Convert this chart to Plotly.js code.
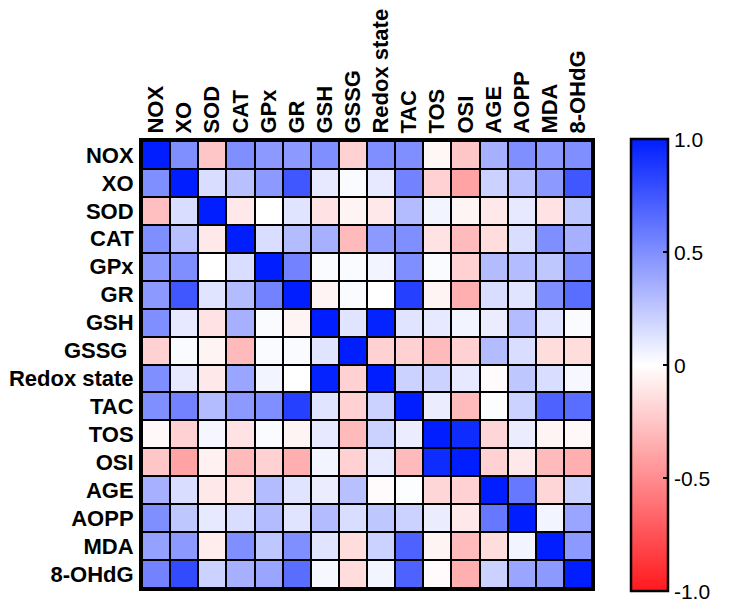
<!DOCTYPE html>
<html>
<head>
<meta charset="utf-8">
<script src="https://cdn.plot.ly/plotly-3.0.1.min.js"></script>
<style>
	body { margin: 0; background: #fff; }
	#chart { width: 735px; height: 608px; }
</style>
</head>
<body>
<div id="chart"></div>
<script>
// variable names, same order for rows and columns ("GSSG" has a trailing space in the source)
let labels = ["NOX", "XO", "SOD", "CAT", "GPx", "GR", "GSH", "GSSG\u00a0", "Redox state",
	"TAC", "TOS", "OSI", "AGE", "AOPP", "MDA", "8-OHdG"];

// correlation coefficients
let rNOX   = [1, 0.5, -0.25, 0.5, 0.45, 0.45, 0.5, -0.2, 0.5, 0.5, -0.04, -0.25, 0.35, 0.5, 0.45, 0.5];
let rXO    = [0.5, 1, 0.15, 0.28, 0.45, 0.75, 0.1, 0.02, 0.1, 0.55, -0.2, -0.4, 0.2, 0.28, 0.45, 0.75];
let rSOD   = [-0.28, 0.15, 1, -0.1, 0, 0.12, -0.12, -0.05, -0.1, 0.3, 0.05, -0.05, -0.1, 0.1, -0.12, 0.25];
let rCAT   = [0.5, 0.28, -0.1, 1, 0.15, 0.3, 0.35, -0.3, 0.45, 0.5, -0.12, -0.3, -0.15, 0.15, 0.5, 0.35];
let rGPx   = [0.45, 0.5, 0, 0.15, 1, 0.55, 0.02, 0.02, 0.05, 0.5, 0.02, -0.2, 0.3, 0.3, 0.25, 0.5];
let rGR    = [0.45, 0.75, 0.12, 0.3, 0.55, 1, -0.05, 0.02, 0, 0.85, -0.05, -0.35, 0.15, 0.12, 0.5, 0.65];
let rGSH   = [0.5, 0.1, -0.12, 0.35, 0.02, -0.05, 1, 0.12, 0.98, 0.12, 0.1, 0.05, 0.08, 0.3, 0.12, 0.02];
let rGSSG  = [-0.2, 0.02, -0.05, -0.3, 0.02, 0.02, 0.12, 1, -0.2, -0.2, -0.3, -0.2, 0.3, 0.15, -0.15, -0.15];
let rRedox = [0.5, 0.1, -0.1, 0.4, 0.05, 0, 0.98, -0.2, 1, 0.2, 0.2, 0.1, -0.02, 0.25, 0.15, 0.03];
let rTAC   = [0.5, 0.55, 0.3, 0.45, 0.5, 0.85, 0.12, -0.2, 0.2, 1, 0.08, -0.3, 0.01, 0.2, 0.7, 0.65];
let rTOS   = [-0.03, -0.2, 0.04, -0.12, 0.02, -0.05, 0.1, -0.3, 0.2, 0.08, 1, 0.94, -0.18, 0.08, -0.05, -0.03];
let rOSI   = [-0.25, -0.4, -0.06, -0.3, -0.2, -0.35, 0.05, -0.2, 0.1, -0.3, 0.94, 1, -0.2, -0.1, -0.3, -0.35];
let rAGE   = [0.35, 0.15, -0.1, -0.12, 0.3, 0.12, 0.08, 0.28, -0.02, 0.01, -0.18, -0.2, 1, 0.6, -0.18, 0.2];
let rAOPP  = [0.5, 0.25, 0.1, 0.15, 0.3, 0.12, 0.3, 0.15, 0.25, 0.2, 0.08, -0.1, 0.6, 1, 0.05, 0.4];
let rMDA   = [0.42, 0.45, -0.08, 0.5, 0.25, 0.5, 0.12, -0.15, 0.2, 0.7, -0.05, -0.3, -0.15, 0.05, 1, 0.45];
let rOHdG  = [0.55, 0.8, 0.2, 0.35, 0.4, 0.65, 0.03, -0.15, 0.05, 0.7, -0.02, -0.35, 0.2, 0.4, 0.45, 1];

let cbTickVals = [-1, -0.5, 0, 0.5, 1];
let cbTickText = ["-1.0", "-0.5", "0", "0.5", "1.0"];

let z = [rNOX, rXO, rSOD, rCAT, rGPx, rGR, rGSH, rGSSG, rRedox, rTAC, rTOS, rOSI, rAGE, rAOPP, rMDA, rOHdG];

let fontFam = "Liberation Sans, Arial, Helvetica, sans-serif";

let trace = {
	type: "heatmap",
	z: z,
	x: labels,
	y: labels,
	zmin: -1,
	zmax: 1,
	xgap: 2,
	ygap: 2,
	hoverinfo: "skip",
	colorscale: [
		[0, "rgb(255,25,30)"],
		[0.5, "rgb(255,255,255)"],
		[1, "rgb(0,30,255)"]
	],
	colorbar: {
		x: 1.087,
		xanchor: "left",
		xpad: 0,
		y: 0.498,
		yanchor: "middle",
		ypad: 0,
		lenmode: "pixels",
		len: 452,
		thickness: 37,
		outlinewidth: 2.5,
		outlinecolor: "#000",
		tickmode: "array",
		tickvals: cbTickVals,
		ticktext: cbTickText,
		ticks: "inside",
		ticklen: 6,
		tickwidth: 2,
		tickcolor: "#000",
		tickfont: { family: fontFam, size: 21, color: "#000" }
	}
};

let layout = {
	width: 735,
	height: 608,
	margin: { l: 142, r: 143, t: 141, b: 20 },
	paper_bgcolor: "#fff",
	plot_bgcolor: "#000",
	xaxis: {
		side: "top",
		tickangle: -90,
		ticks: "",
		showgrid: false,
		zeroline: false,
		showline: true,
		mirror: true,
		linewidth: 3,
		linecolor: "#000",
		ticklabelstandoff: 0,
		tickfont: { family: fontFam, size: 22, weight: "bold", color: "#000" }
	},
	yaxis: {
		autorange: "reversed",
		ticks: "",
		showgrid: false,
		zeroline: false,
		showline: true,
		mirror: true,
		linewidth: 3,
		linecolor: "#000",
		ticklabelstandoff: 1,
		tickfont: { family: fontFam, size: 22, weight: "bold", color: "#000" }
	}
};

Plotly.newPlot("chart", [trace], layout, { displayModeBar: false, staticPlot: true });
</script>
</body>
</html>
